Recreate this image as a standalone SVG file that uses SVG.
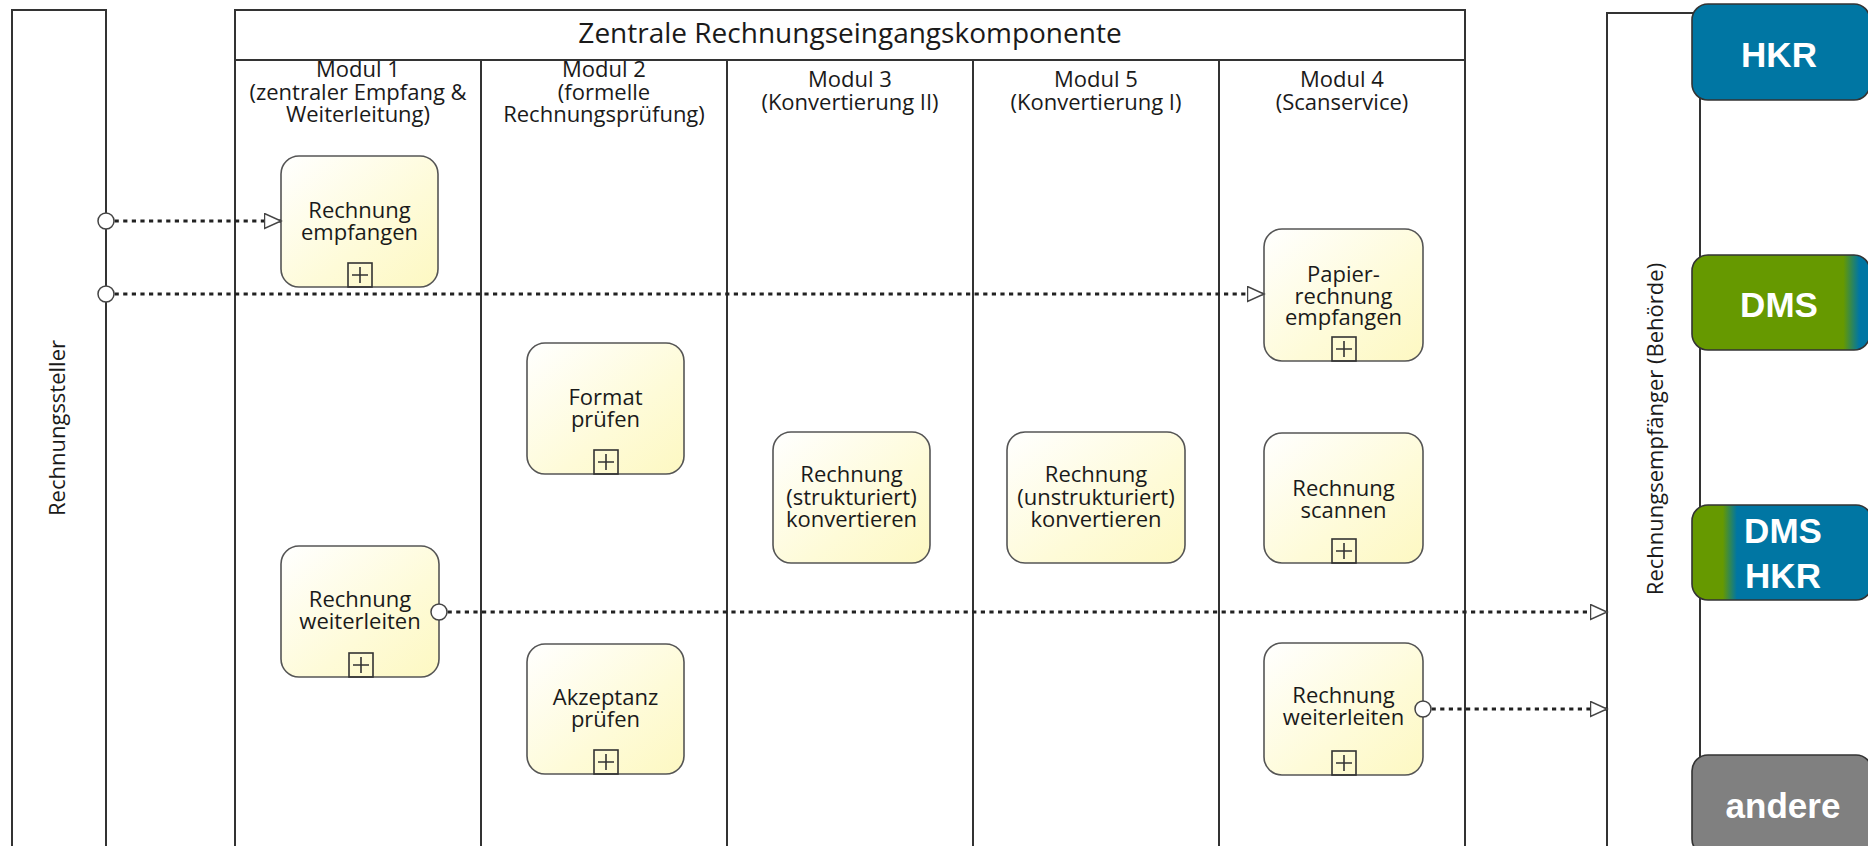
<svg xmlns="http://www.w3.org/2000/svg" width="1868" height="846" viewBox="0 0 1868 846">
<style>
.pool{fill:#fff;stroke:#333;stroke-width:2}
.ln{stroke:#333;stroke-width:2;fill:none}
.hd{font-family:"Open Sans","Noto Sans",sans-serif;font-size:22px;fill:#1a1a1a;text-anchor:middle}
.ttl{font-family:"Open Sans","Noto Sans",sans-serif;font-size:28px;fill:#1a1a1a;text-anchor:middle}
.task{fill:url(#tg);stroke:#555;stroke-width:1.6}
.tt{font-family:"Open Sans","Noto Sans",sans-serif;font-size:22px;fill:#1a1a1a;text-anchor:middle}
.pm{fill:none;stroke:#333;stroke-width:1.6}
.flow{fill:none;stroke:#222;stroke-width:3;stroke-dasharray:4.2 4.4;marker-start:url(#circ);marker-end:url(#arr)}
.sys{stroke:#333;stroke-width:1.6}
.st{font-family:"Liberation Sans",Arial,sans-serif;font-weight:bold;font-size:35px;fill:#fff;text-anchor:middle}
</style>
<defs>
<linearGradient id="tg" x1="0" y1="0" x2="1" y2="1">
<stop offset="0" stop-color="#ffffff"/>
<stop offset="0.6" stop-color="#fefbd8"/>
<stop offset="1" stop-color="#fdf8c2"/>
</linearGradient>
<linearGradient id="g1" gradientUnits="userSpaceOnUse" x1="1692" y1="0" x2="1868" y2="0">
<stop offset="0.86" stop-color="#669900"/>
<stop offset="0.95" stop-color="#0076a3"/>
</linearGradient>
<linearGradient id="g2" gradientUnits="userSpaceOnUse" x1="1692" y1="0" x2="1868" y2="0">
<stop offset="0.175" stop-color="#669900"/>
<stop offset="0.255" stop-color="#0076a3"/>
</linearGradient>
<marker id="arr" markerUnits="userSpaceOnUse" markerWidth="20" markerHeight="18" refX="17.5" refY="8.5" orient="auto">
<path d="M1,1 L17.5,8.5 L1,16 Z" fill="#fff" stroke="#444" stroke-width="1.5"/>
</marker>
<marker id="circ" markerUnits="userSpaceOnUse" markerWidth="20" markerHeight="20" refX="10" refY="10" orient="auto">
<circle cx="10" cy="10" r="8" fill="#fff" stroke="#444" stroke-width="1.5"/>
</marker>
</defs>

<g id="pool-rechnungssteller">
<rect class="pool" x="12" y="10" width="94" height="845"/>
<text class="tt" transform="translate(65,428) rotate(-90)">Rechnungssteller</text>
</g>

<g id="pool-zentrale">
<rect class="pool" x="235" y="10" width="1230" height="845"/>
<line class="ln" x1="235" y1="60" x2="1465" y2="60"/>
<text class="ttl" x="850" y="43">Zentrale Rechnungseingangskomponente</text>
</g>

<g id="lane-modul1">
<text class="hd" x="358" y="77">Modul 1</text>
<text class="hd" x="358" y="99.5">(zentraler Empfang &amp;</text>
<text class="hd" x="358" y="122">Weiterleitung)</text>
</g>
<g id="lane-modul2">
<line class="ln" x1="481" y1="60" x2="481" y2="855"/>
<text class="hd" x="604" y="77">Modul 2</text>
<text class="hd" x="604" y="99.5">(formelle</text>
<text class="hd" x="604" y="122">Rechnungsprüfung)</text>
</g>
<g id="lane-modul3">
<line class="ln" x1="727" y1="60" x2="727" y2="855"/>
<text class="hd" x="850" y="87">Modul 3</text>
<text class="hd" x="850" y="109.5">(Konvertierung II)</text>
</g>
<g id="lane-modul5">
<line class="ln" x1="973" y1="60" x2="973" y2="855"/>
<text class="hd" x="1096" y="87">Modul 5</text>
<text class="hd" x="1096" y="109.5">(Konvertierung I)</text>
</g>
<g id="lane-modul4">
<line class="ln" x1="1219" y1="60" x2="1219" y2="855"/>
<text class="hd" x="1342" y="87">Modul 4</text>
<text class="hd" x="1342" y="109.5">(Scanservice)</text>
</g>

<g id="pool-rechnungsempfaenger">
<rect class="pool" x="1607" y="13" width="93" height="845"/>
<text class="tt" transform="translate(1663,429) rotate(-90)">Rechnungsempfänger (Behörde)</text>
</g>

<g id="task-rechnung-empfangen">
<rect class="task" x="281" y="156" width="157" height="131" rx="18"/>
<text class="tt" x="359.5" y="218">Rechnung</text>
<text class="tt" x="359.5" y="240">empfangen</text>
<rect class="pm" x="348" y="263" width="24" height="24"/>
<path class="pm" d="M352,275 H368 M360,267 V283"/>
</g>

<g id="task-rechnung-weiterleiten-1">
<rect class="task" x="281" y="546" width="158" height="131" rx="18"/>
<text class="tt" x="360" y="607">Rechnung</text>
<text class="tt" x="360" y="629">weiterleiten</text>
<rect class="pm" x="349" y="653" width="24" height="24"/>
<path class="pm" d="M353,665 H369 M361,657 V673"/>
</g>

<g id="task-format-pruefen">
<rect class="task" x="527" y="343" width="157" height="131" rx="18"/>
<text class="tt" x="605.5" y="405">Format</text>
<text class="tt" x="605.5" y="427">prüfen</text>
<rect class="pm" x="594" y="450" width="24" height="24"/>
<path class="pm" d="M598,462 H614 M606,454 V470"/>
</g>

<g id="task-akzeptanz-pruefen">
<rect class="task" x="527" y="644" width="157" height="130" rx="18"/>
<text class="tt" x="605.5" y="705">Akzeptanz</text>
<text class="tt" x="605.5" y="727">prüfen</text>
<rect class="pm" x="594" y="750" width="24" height="24"/>
<path class="pm" d="M598,762 H614 M606,754 V770"/>
</g>

<g id="task-strukturiert">
<rect class="task" x="773" y="432" width="157" height="131" rx="18"/>
<text class="tt" x="851.5" y="482">Rechnung</text>
<text class="tt" x="851.5" y="504.5">(strukturiert)</text>
<text class="tt" x="851.5" y="527">konvertieren</text>
</g>

<g id="task-unstrukturiert">
<rect class="task" x="1007" y="432" width="178" height="131" rx="18"/>
<text class="tt" x="1096" y="482">Rechnung</text>
<text class="tt" x="1096" y="504.5">(unstrukturiert)</text>
<text class="tt" x="1096" y="527">konvertieren</text>
</g>

<g id="task-papierrechnung-empfangen">
<rect class="task" x="1264" y="229" width="159" height="132" rx="18"/>
<text class="tt" x="1343.5" y="282">Papier-</text>
<text class="tt" x="1343.5" y="303.5">rechnung</text>
<text class="tt" x="1343.5" y="325">empfangen</text>
<rect class="pm" x="1332" y="337" width="24" height="24"/>
<path class="pm" d="M1336,349 H1352 M1344,341 V357"/>
</g>

<g id="task-rechnung-scannen">
<rect class="task" x="1264" y="433" width="159" height="130" rx="18"/>
<text class="tt" x="1343.5" y="496">Rechnung</text>
<text class="tt" x="1343.5" y="518">scannen</text>
<rect class="pm" x="1332" y="539" width="24" height="24"/>
<path class="pm" d="M1336,551 H1352 M1344,543 V559"/>
</g>

<g id="task-rechnung-weiterleiten-2">
<rect class="task" x="1264" y="643" width="159" height="132" rx="18"/>
<text class="tt" x="1343.5" y="703">Rechnung</text>
<text class="tt" x="1343.5" y="725">weiterleiten</text>
<rect class="pm" x="1332" y="751" width="24" height="24"/>
<path class="pm" d="M1336,763 H1352 M1344,755 V771"/>
</g>

<g id="connectors">
<path class="flow" d="M106,221 H281"/>
<path class="flow" d="M106,294 H1264"/>
<path class="flow" d="M439,612 H1607"/>
<path class="flow" d="M1423,709 H1607"/>
</g>

<g id="sys-hkr">
<rect class="sys" x="1692" y="4" width="178" height="96" rx="16" fill="#0076a3"/>
<text class="st" x="1779" y="67">HKR</text>
</g>
<g id="sys-dms">
<rect class="sys" x="1692" y="255" width="178" height="95" rx="16" fill="url(#g1)"/>
<text class="st" x="1779" y="317">DMS</text>
</g>
<g id="sys-dms-hkr">
<rect class="sys" x="1692" y="505" width="180" height="95" rx="16" fill="url(#g2)"/>
<text class="st" x="1783" y="543">DMS</text>
<text class="st" x="1783" y="588">HKR</text>
</g>
<g id="sys-andere">
<rect class="sys" x="1692" y="755" width="180" height="100" rx="16" fill="#808080"/>
<text class="st" x="1783" y="818">andere</text>
</g>
</svg>
